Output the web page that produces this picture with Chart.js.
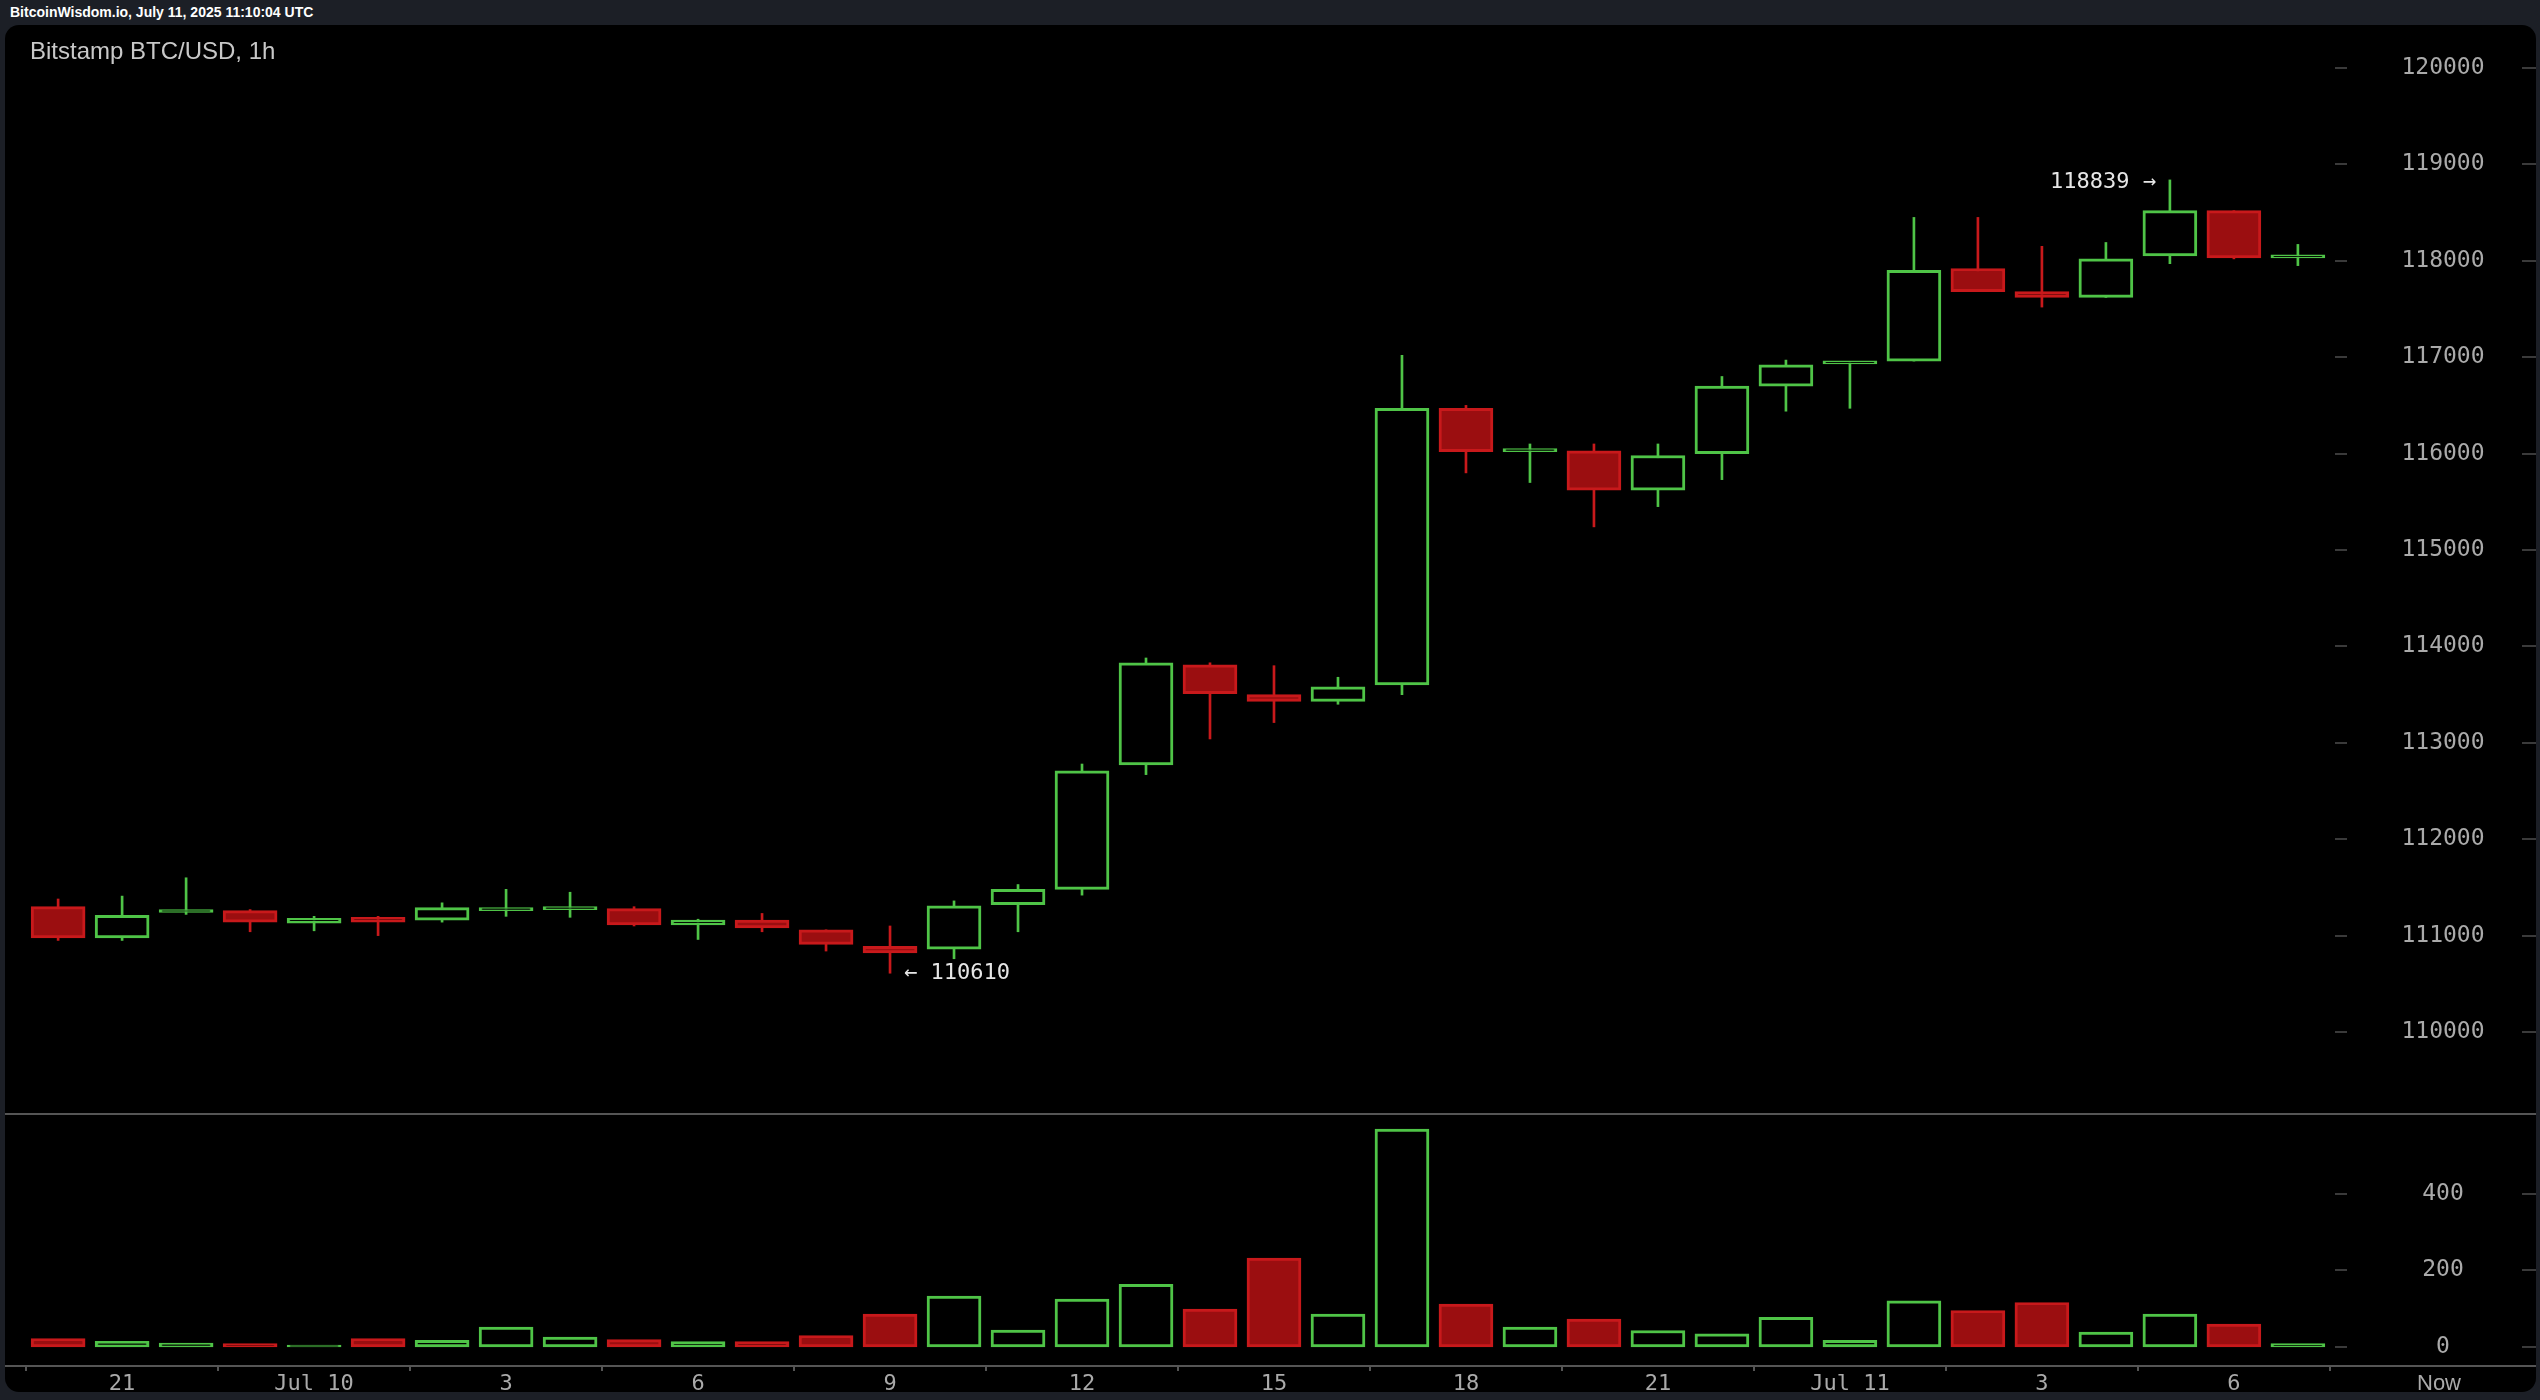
<!DOCTYPE html>
<html><head><meta charset="utf-8">
<script src="https://cdn.jsdelivr.net/npm/chart.js@4"></script>
<style>
html,body{margin:0;padding:0;background:#1c1f26;width:2540px;height:1400px;overflow:hidden}
#hdr{position:absolute;left:10px;top:4px;font:bold 14px "Liberation Sans",Arial,sans-serif;color:#fff}
#panel{position:absolute;left:5px;top:25px;width:2531px;height:1367px;background:#000;border-radius:14px;overflow:hidden}
#pc{position:absolute;left:0;top:0;width:2531px;height:1088px}
#vc{position:absolute;left:0;top:1088px;width:2531px;height:279px}
</style></head><body>
<div id="hdr">BitcoinWisdom.io, July 11, 2025 11:10:04 UTC</div>
<div id="panel"><div id="pc"><canvas id="price"></canvas></div><div id="vc"><canvas id="vol"></canvas></div></div>
<script>
const hours=[20,21,22,23,0,1,2,3,4,5,6,7,8,9,10,11,12,13,14,15,16,17,18,19,20,21,22,23,0,1,2,3,4,5,6,7];
const opens =[111300,110975,111240,111260,111130,111190,111160,111260,111270,111280,111110,111160,111060,110890,110860,111320,111480,112770,113810,113500,113430,113600,116470,116020,116030,115620,116000,116700,116930,116960,117920,117680,117620,118050,118520,118030];
const highs =[111380,111410,111600,111270,111200,111200,111340,111480,111450,111300,111170,111230,111060,111100,111360,111530,112780,113880,113830,113800,113680,117020,116500,116100,116100,116100,116800,116970,116950,118450,118450,118150,118190,118839,118520,118170];
const lows  =[110950,110950,111220,111040,111050,111000,111140,111200,111190,111100,110960,111040,110840,110610,110760,111040,111420,112670,113040,113210,113400,113500,115800,115700,115240,115450,115730,116440,116470,116960,117680,117520,117620,117970,118020,117950];
const closes=[110975,111210,111270,111140,111180,111140,111290,111280,111280,111110,111160,111080,110910,110820,111310,111480,112710,113830,113510,113430,113580,116470,116020,116040,115620,115980,116700,116920,116940,117900,117680,117620,118020,118520,118030,118040];
const volumes=[22,15,10,9,5,22,17,52,26,19,14,14,30,86,133,44,125,163,99,232,86,568,112,52,73,43,34,77,17,120,95,116,39,86,60,9];
const priceTicks=[110000,111000,112000,113000,114000,115000,116000,117000,118000,119000,120000];
const volTicks=[0,200,400];
const xTickIdx=[1,4,7,10,13,16,19,22,25,28,31,34];
const xTickLbl=['21','Jul 10','3','6','9','12','15','18','21','Jul 11','3','6'];
const hiLabel={i:33,v:118839}, loLabel={i:13,v:110610};

const GREEN='#4fc447', RED='#c8191b', REDF='#9b0e10';
const up=opens.map((o,i)=>closes[i]>=o);
const XMIN=-0.83, XMAX=35.58, AXW=201, LBLX=2438;
const mono='"DejaVu Sans Mono",monospace';
const fitW=s=>{s.width=AXW;};
const yAxisDraw={id:'yad',afterDraw(c){const ctx=c.ctx,s=c.scales.y;ctx.save();ctx.strokeStyle='#3a3a3a';ctx.lineWidth=2;
  ctx.fillStyle='#aaaaaa';ctx.font='23px '+mono;ctx.textAlign='center';ctx.textBaseline='middle';
  s.ticks.forEach(t=>{const y=Math.round(s.getPixelForValue(t.value));ctx.beginPath();ctx.moveTo(s.left,y);ctx.lineTo(s.left+12,y);ctx.moveTo(s.right-14,y);ctx.lineTo(s.right,y);ctx.stroke();
    ctx.fillText(String(t.value),LBLX,y);});ctx.restore();}};

const priceAnno={id:'pa',afterDraw(c){const ctx=c.ctx,x=c.scales.x,y=c.scales.y;ctx.save();
  ctx.fillStyle='#c8c8c8';ctx.font='24px "Liberation Sans",Arial,sans-serif';ctx.textBaseline='middle';ctx.textAlign='left';
  ctx.fillText('Bitstamp BTC/USD, 1h',25,27);
  ctx.fillStyle='#e6e6e6';ctx.font='22px '+mono;
  ctx.textAlign='right';ctx.fillText(hiLabel.v+' →',x.getPixelForValue(hiLabel.i)-14,y.getPixelForValue(hiLabel.v)+2);
  ctx.textAlign='left';ctx.fillText('← '+loLabel.v,x.getPixelForValue(loLabel.i)+14,y.getPixelForValue(loLabel.v));
  ctx.restore();}};

const yHidden={display:false};
new Chart(document.getElementById('price'),{type:'bar',
 data:{datasets:[
  {order:2,grouped:false,data:hours.map((h,i)=>({x:i,y:[lows[i],highs[i]]})),backgroundColor:up.map(u=>u?GREEN:RED),barThickness:2,borderWidth:0},
  {order:1,grouped:false,data:hours.map((h,i)=>({x:i,y:[opens[i],closes[i]]})),backgroundColor:up.map(u=>u?'#000':REDF),borderColor:up.map(u=>u?GREEN:RED),borderWidth:3,borderSkipped:false,barThickness:54,minBarLength:3}
 ]},
 options:{responsive:true,maintainAspectRatio:false,devicePixelRatio:1,animation:false,layout:{padding:0},
  plugins:{legend:{display:false},tooltip:{enabled:false}},
  scales:{x:{type:'linear',min:XMIN,max:XMAX,display:false,offset:false},
   y:{position:'right',min:109160,max:120446,afterFit:fitW,afterBuildTicks:s=>{s.ticks=priceTicks.map(v=>({value:v}));},
      ticks:yHidden,grid:{display:false},border:{display:false}}}},
 plugins:[yAxisDraw,priceAnno]});

const volAnno={id:'va',afterDraw(c){const ctx=c.ctx,s=c.scales.y;ctx.save();ctx.strokeStyle='#555';ctx.lineWidth=2;
  ctx.beginPath();ctx.moveTo(0,1);ctx.lineTo(c.width,1);ctx.stroke();
  ctx.beginPath();ctx.moveTo(0,s.bottom+1);ctx.lineTo(c.width,s.bottom+1);ctx.stroke();
  ctx.fillStyle='#aaaaaa';ctx.font='22px "Liberation Sans",Arial,sans-serif';ctx.textAlign='center';ctx.textBaseline='middle';
  ctx.fillText('Now',LBLX-4,s.bottom+19);ctx.restore();}};
new Chart(document.getElementById('vol'),{type:'bar',
 data:{datasets:[{data:volumes.map((v,i)=>({x:i,y:v})),backgroundColor:up.map(u=>u?'#000':REDF),borderColor:up.map(u=>u?GREEN:RED),borderWidth:3,borderSkipped:false,barThickness:54}]},
 options:{responsive:true,maintainAspectRatio:false,devicePixelRatio:1,animation:false,layout:{padding:0},
  plugins:{legend:{display:false},tooltip:{enabled:false}},
  scales:{x:{type:'linear',min:XMIN,max:XMAX,offset:false,afterBuildTicks:s=>{s.ticks=xTickIdx.map(v=>({value:v}));},
     afterFit:s=>{s.height=27;},
     ticks:{color:'#aaaaaa',font:{family:mono,size:22},maxRotation:0,autoSkip:false,padding:0,callback:(v)=>xTickLbl[xTickIdx.indexOf(v)]},
     grid:{drawOnChartArea:false,color:'#555',tickLength:6,lineWidth:2},border:{display:false}},
   y:{position:'right',min:-47,max:610,afterFit:fitW,afterBuildTicks:s=>{s.ticks=volTicks.map(v=>({value:v}));},
      ticks:yHidden,grid:{display:false},border:{display:false}}}},
 plugins:[yAxisDraw,volAnno]});
</script></body></html>
